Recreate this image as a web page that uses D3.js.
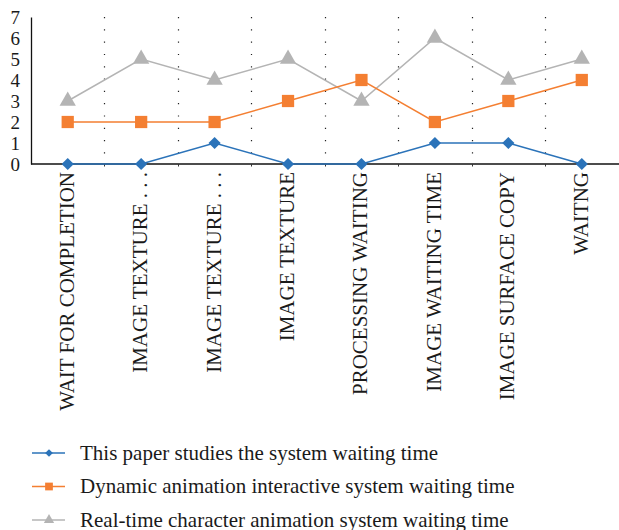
<!DOCTYPE html>
<html>
<head>
<meta charset="utf-8">
<script src="https://cdn.jsdelivr.net/npm/d3@7"></script>
<style>
  html, body { margin: 0; padding: 0; background: #fff; }
  svg text { font-family: "Liberation Serif", "DejaVu Serif", serif; fill: #1a1a1a; }
</style>
</head>
<body>
<svg id="chart" width="619" height="530"></svg>
<script>
// Waiting-time stages along the x axis
const categories = [
  "WAIT FOR COMPLETION",
  "IMAGE TEXTURE . . .",
  "IMAGE TEXTURE . . .",
  "IMAGE TEXTURE",
  "PROCESSING WAITING",
  "IMAGE WAITING TIME",
  "IMAGE SURFACE COPY",
  "WAITNG"
];

// Waiting times per system
const thisPaper = [0, 0, 1, 0, 0, 1, 1, 0];
const dynamicInteractive = [2, 2, 2, 3, 4, 2, 3, 4];
const realtimeCharacter = [3, 5, 4, 5, 3, 6, 4, 5];

const seriesNames = [
  "This paper studies the system waiting time",
  "Dynamic animation interactive system waiting time",
  "Real-time character animation system waiting time"
];

const yTicks = [0, 1, 2, 3, 4, 5, 6, 7];

const series = [
  { name: seriesNames[0], values: thisPaper, color: "#2b73b9", symbol: d3.symbolDiamond2, size: 95 },
  { name: seriesNames[1], values: dynamicInteractive, color: "#f47f32", symbol: d3.symbolSquare, size: 150 },
  { name: seriesNames[2], values: realtimeCharacter, color: "#b4b4b4", symbol: d3.symbolTriangle, size: 115 }
];

const svg = d3.select("#chart");
const plotLeft = 31;
const plotTop = 17;
const plotRight = 619;
const plotBottom = 164;

const x = d3.scaleBand().domain(d3.range(categories.length)).range([plotLeft, plotRight - 0.5]);
const y = d3.scaleLinear().domain([0, 7]).range([plotBottom, plotTop]);

// Dotted separators between categories
svg.append("g").selectAll("line")
  .data(d3.range(1, categories.length))
  .join("line")
  .attr("x1", i => Math.round(x(i)) + 0.5)
  .attr("x2", i => Math.round(x(i)) + 0.5)
  .attr("y1", y(7))
  .attr("y2", plotBottom)
  .attr("stroke", "#222")
  .attr("stroke-width", 1.2)
  .attr("stroke-dasharray", "1.2,11.1");

// Y axis
const yAxis = d3.axisLeft(y).tickValues(yTicks).tickFormat(d3.format("d")).tickSize(0).tickPadding(11);
const ya = svg.append("g").attr("transform", `translate(${plotLeft},0)`).call(yAxis);
ya.select(".domain").attr("stroke", "#111").attr("stroke-width", 1.3);
ya.selectAll("text").attr("font-size", 19).attr("font-family", "Liberation Serif, serif").attr("fill", "#1a1a1a");

// X axis with small ticks at the category boundaries
const xa = svg.append("g").attr("transform", `translate(0,${plotBottom})`);
xa.append("line")
  .attr("x1", plotLeft).attr("x2", plotRight)
  .attr("stroke", "#111").attr("stroke-width", 1.5);
xa.selectAll("line.tick")
  .data(d3.range(1, categories.length))
  .join("line")
  .attr("class", "tick")
  .attr("x1", i => Math.round(x(i)) + 0.5)
  .attr("x2", i => Math.round(x(i)) + 0.5)
  .attr("y1", 0).attr("y2", 2.5)
  .attr("stroke", "#333");
xa.selectAll("text")
  .data(categories)
  .join("text")
  .attr("transform", (d, i) => `translate(${x(i) + x.bandwidth() / 2 + 6},8) rotate(-90)`)
  .attr("text-anchor", "end")
  .attr("font-size", 21)
  .text(d => d);

// Series lines and markers
const line = d3.line().x((d, i) => x(i) + x.bandwidth() / 2).y(d => y(d));
series.slice().reverse().forEach(s => {
  svg.append("path")
    .datum(s.values)
    .attr("d", line)
    .attr("fill", "none")
    .attr("stroke", s.color)
    .attr("stroke-width", 1.5);
});
series.slice().reverse().forEach(s => {
  svg.append("g").selectAll("path")
    .data(s.values)
    .join("path")
    .attr("transform", (d, i) => `translate(${x(i) + x.bandwidth() / 2},${y(d)})`)
    .attr("d", d3.symbol().type(s.symbol).size(s.size))
    .attr("fill", s.color);
});

// Legend
const legend = svg.append("g").attr("transform", "translate(32,453)");
series.forEach((s, i) => {
  const row = legend.append("g").attr("transform", `translate(0,${i * 33.5})`);
  row.append("line").attr("x1", 0).attr("x2", 33).attr("stroke", s.color).attr("stroke-width", 1.5);
  row.append("path")
    .attr("transform", "translate(17,0)")
    .attr("d", d3.symbol().type(s.symbol).size(s.size * 0.4))
    .attr("fill", s.color);
  row.append("text")
    .attr("x", 48).attr("y", 6.5)
    .attr("font-size", 21)
    .text(s.name);
});
</script>
</body>
</html>
